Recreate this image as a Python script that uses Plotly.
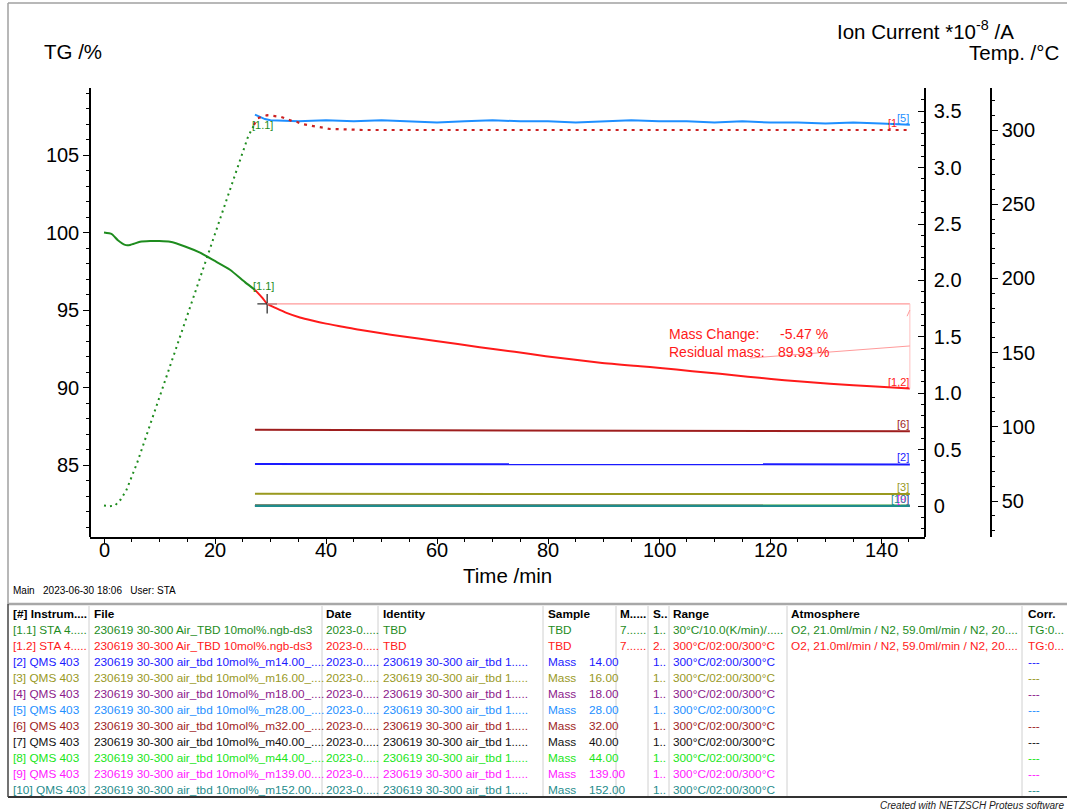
import numpy as np
import plotly.graph_objects as go

W, H = 1067, 812
FONT = "Liberation Sans, Arial, Helvetica, sans-serif"

# ---------------- data ----------------
# TG /% : segment [1.1] (green) and segment [1.2] (red)
tg_green_t = [0, 1.4, 2.5, 3.8, 4.7, 6.5, 8.3, 10.0, 11.9, 14.6, 17.3, 19.8, 22.7, 25.4, 27.2]
tg_green = [100.0, 99.9, 99.5, 99.2, 99.2, 99.4, 99.45, 99.45, 99.4, 99.1, 98.7, 98.2, 97.6, 96.8, 96.3]
tg_red_t = [27.2, 28.5, 29.4, 31.0, 33.0, 35.3, 37.5, 40.0, 43.0, 46.0, 50.0, 53.3, 59.8, 67.7,
            74.0, 79.6, 89.4, 96.6, 100.2, 106.0, 111.0, 116.0, 120.2, 125.0, 130.8, 135.0,
            139.8, 145.2]
tg_red = [96.3, 95.8, 95.40, 95.12, 94.8, 94.52, 94.32, 94.12, 93.92, 93.72, 93.5, 93.32, 93.0,
          92.6, 92.3, 92.02, 91.6, 91.37, 91.26, 91.05, 90.88, 90.7, 90.55, 90.4, 90.25, 90.15,
          90.05, 89.93]

# Temperature /°C
temp_green_t = [0, 1, 2, 3, 4, 6, 8, 10, 12, 14, 16, 18, 20, 22, 24, 26, 27]
temp_green = [47, 46.5, 47, 51, 57, 76, 98, 120, 142, 164, 187, 209, 230, 253, 275, 296, 303]
temp_red_t = [27.0, 27.7, 29.4, 31.0, 31.9, 33.0, 33.9, 34.8, 35.7, 36.6, 37.7, 38.9, 40.7, 43.0,
              46.7, 60, 80, 100, 120, 145.2]
temp_red = [303.4, 308, 310, 309.4, 308.8, 307.4, 306, 305.4, 304, 303.4, 302.7, 302, 300.7, 300.5,
            300, 300, 300, 300, 300, 300]

# Ion current *1e-8 /A
ms5_t = [27.2, 28, 29, 30, 35, 40, 45, 50, 55, 60, 65, 70, 75, 80, 85, 90, 95, 100, 105, 110,
         115, 120, 125, 130, 135, 140, 145.2]
ms5 = [3.47, 3.45, 3.43, 3.42, 3.41, 3.42, 3.41, 3.42, 3.41, 3.40, 3.41, 3.42, 3.41, 3.41, 3.40,
       3.41, 3.42, 3.41, 3.41, 3.40, 3.41, 3.40, 3.40, 3.39, 3.40, 3.39, 3.38]
ms_t = [27.2, 50, 75, 100, 125, 145.2]
ms6 = [0.675, 0.672, 0.670, 0.668, 0.665, 0.662]
ms2 = [0.372, 0.372, 0.371, 0.371, 0.370, 0.369]
ms3 = [0.108, 0.107, 0.107, 0.106, 0.106, 0.106]
ms4 = [0.004, 0.004, 0.003, 0.003, 0.003, 0.003]
ms7 = [0.002, 0.002, 0.002, 0.002, 0.002, 0.002]
ms8 = [0.003, 0.003, 0.003, 0.003, 0.003, 0.003]
ms9 = [0.001, 0.001, 0.001, 0.001, 0.001, 0.001]
ms10 = [0.0, 0.0, 0.0, 0.0, 0.0, 0.0]

MARK_T = 29.4           # start of the mass-change evaluation
x_ticks = [0, 20, 40, 60, 80, 100, 120, 140]
tg_ticks = [85, 90, 95, 100, 105]
ion_ticks = [0, 0.5, 1.0, 1.5, 2.0, 2.5, 3.0, 3.5]
ion_ticktext = ["0", "0.5", "1.0", "1.5", "2.0", "2.5", "3.0", "3.5"]
temp_ticks = [50, 100, 150, 200, 250, 300]

# colours
C11 = "#1E8C1E"; C12 = "#FF1A1A"; C2 = "#1A1AFF"; C3 = "#99991F"; C4 = "#8C1A8C"
C5 = "#1E8FFF"; C6 = "#9E1E1E"; C7 = "#111111"; C8 = "#19E619"; C9 = "#FF19FF"; C10 = "#1F8C8C"

# table
tbl_header = ["[#] Instrum....", "File", "Date", "Identity", "Sample", "M.....", "S..", "Range",
              "Atmosphere", "Corr."]
tbl_id = ["[1.1] STA 4.....", "[1.2] STA 4.....", "[2] QMS 403", "[3] QMS 403", "[4] QMS 403",
          "[5] QMS 403", "[6] QMS 403", "[7] QMS 403", "[8] QMS 403", "[9] QMS 403", "[10] QMS 403"]
tbl_file = ["230619 30-300 Air_TBD 10mol%.ngb-ds3", "230619 30-300 Air_TBD 10mol%.ngb-ds3",
            "230619 30-300 air_tbd 10mol%_m14.00_....", "230619 30-300 air_tbd 10mol%_m16.00_....",
            "230619 30-300 air_tbd 10mol%_m18.00_....", "230619 30-300 air_tbd 10mol%_m28.00_....",
            "230619 30-300 air_tbd 10mol%_m32.00_....", "230619 30-300 air_tbd 10mol%_m40.00_....",
            "230619 30-300 air_tbd 10mol%_m44.00_....", "230619 30-300 air_tbd 10mol%_m139.00....",
            "230619 30-300 air_tbd 10mol%_m152.00...."]
tbl_date = ["2023-0....."] * 11
tbl_identity = ["TBD", "TBD"] + ["230619 30-300 air_tbd 1....."] * 9
tbl_sample = ["TBD", "TBD"] + ["Mass"] * 9
tbl_mass = ["", "", "14.00", "16.00", "18.00", "28.00", "32.00", "40.00", "44.00", "139.00", "152.00"]
tbl_m = ["7......", "7......"] + [""] * 9
tbl_s = ["1..", "2.."] + ["1.."] * 9
tbl_range = ["30°C/10.0(K/min)/.....", "300°C/02:00/300°C"] + ["300°C/02:00/300°C"] * 9
tbl_atm = ["O2, 21.0ml/min / N2, 59.0ml/min / N2, 20....",
           "O2, 21.0ml/min / N2, 59.0ml/min / N2, 20...."] + [""] * 9
tbl_corr = ["TG:0...", "TG:0..."] + ["---"] * 9
tbl_color = [C11, C12, C2, C3, C4, C5, C6, C7, C8, C9, C10]

# ---------------- layout helpers (pixel -> paper) ----------------
def px(x):
    return x / W


def py(y):
    return 1 - y / H


X0, X1, YT, YB = 90, 925, 88, 537
X_ION, X_TEMP = 925, 991

annotations = []
shapes = []


def txt(x, y, s, size, color="black", xanchor="left", yanchor="middle", weight="normal",
        style="normal"):
    annotations.append(dict(x=px(x), y=py(y), xref="paper", yref="paper", text=s,
                            showarrow=False, xanchor=xanchor, yanchor=yanchor, borderpad=0,
                            font=dict(size=size, color=color, family=FONT, weight=weight,
                                      style=style)))


def pline(x0, y0, x1, y1, color, width):
    shapes.append(dict(type="line", xref="paper", yref="paper", x0=px(x0), y0=py(y0),
                       x1=px(x1), y1=py(y1), line=dict(color=color, width=width)))


fig = go.Figure()

# temperature curves (yaxis3)
fig.add_trace(go.Scatter(x=temp_green_t, y=temp_green, yaxis="y3", mode="lines",
                         line=dict(color=C11, width=2, dash="2px,4px")))
fig.add_trace(go.Scatter(x=temp_red_t, y=temp_red, yaxis="y3", mode="lines",
                         line=dict(color="#CC2222", width=2.2, dash="3px,5px")))

# ion current curves (yaxis2)
for t, v, c in [(ms_t, ms4, C4), (ms_t, ms7, C7), (ms_t, ms8, C8), (ms_t, ms9, C9),
                (ms_t, ms10, C10), (ms_t, ms3, C3), (ms_t, ms2, C2), (ms_t, ms6, C6),
                (ms5_t, ms5, C5)]:
    fig.add_trace(go.Scatter(x=t, y=v, yaxis="y2", mode="lines", line=dict(color=c, width=2)))

# TG curves
fig.add_trace(go.Scatter(x=tg_green_t, y=tg_green, mode="lines",
                         line=dict(color=C11, width=2, shape="spline", smoothing=0.6)))
fig.add_trace(go.Scatter(x=tg_red_t, y=tg_red, mode="lines",
                         line=dict(color=C12, width=2, shape="spline", smoothing=0.6)))

# mass change evaluation
start_val = float(np.interp(MARK_T, tg_red_t, tg_red))
t_end = tg_red_t[-1]
end_val = tg_red[-1]
fig.add_trace(go.Scatter(x=[MARK_T], y=[start_val], mode="markers",
                         marker=dict(symbol="cross-thin", size=14,
                                     line=dict(color="#333333", width=1.3))))
ev_color = "#FF9A9A"
shapes.append(dict(type="line", xref="x", yref="y", x0=MARK_T, y0=start_val, x1=t_end,
                   y1=start_val, line=dict(color=ev_color, width=1.3)))
shapes.append(dict(type="line", xref="x", yref="y", x0=t_end, y0=start_val, x1=t_end,
                   y1=end_val, line=dict(color="#FFC0C0", width=1)))
shapes.append(dict(type="line", xref="x", yref="y", x0=116.4, y0=91.9, x1=t_end, y1=92.68,
                   line=dict(color=ev_color, width=1)))
shapes.append(dict(type="line", xref="x", yref="y", x0=t_end - 0.5, y0=94.6, x1=t_end,
                   y1=95.0, line=dict(color=ev_color, width=1)))

txt(668, 334, "Mass Change:", 14, C12)
txt(779, 334, f"{end_val - start_val:.2f} %", 14, C12)
txt(668, 352, "Residual mass:", 14, C12)
txt(777, 352, f"{end_val:.2f} %", 14, C12)


# curve tags
def tag(x, y, yref, s, color, xanchor="right", yanchor="bottom", yshift=0):
    annotations.append(dict(x=x, y=y, xref="x", yref=yref, text=s, showarrow=False,
                            xanchor=xanchor, yanchor=yanchor, borderpad=0, yshift=yshift,
                            font=dict(size=11, color=color, family=FONT)))


tag(tg_green_t[-1] - 0.5, tg_green[-1], "y", "[1.1]", C11, xanchor="left", yshift=-3)
tag(temp_green_t[-1] - 0.5, temp_green[-1], "y3", "[1.1]", C11, xanchor="left",
    yanchor="middle", yshift=1)
tag(t_end, end_val, "y", "[1,2]", C12)
tag(temp_red_t[-1] - 2.2, temp_red[-1], "y3", "[1", C12)
tag(ms5_t[-1], ms5[-1], "y2", "[5]", C5)
tag(ms_t[-1], ms6[-1], "y2", "[6]", C6)
tag(ms_t[-1], ms2[-1], "y2", "[2]", C2)
tag(ms_t[-1], ms3[-1], "y2", "[3]", C3)
tag(ms_t[-1], ms9[-1], "y2", "[9]", C9)
tag(ms_t[-1], ms10[-1], "y2", "[10]", C10)

# x tick labels placed at the axis tick values
for xv in x_ticks:
    annotations.append(dict(x=xv, y=py(550), xref="x", yref="paper", text=str(xv),
                            showarrow=False, xanchor="center", yanchor="middle", borderpad=0,
                            font=dict(size=20, color="black", family=FONT)))

# axis titles and page texts
txt(43, 51, "TG /%", 20.5)
txt(1015, 30, "Ion Current *10<sup>-8</sup> /A", 20.5, xanchor="right")
txt(1060, 52, "Temp. /°C", 20.5, xanchor="right")
txt(507, 575, "Time /min", 20.5, xanchor="center")
txt(12, 590, "Main&nbsp;&nbsp;&nbsp;2023-06-30 18:06&nbsp;&nbsp;&nbsp;User: STA", 10)
txt(879, 805, "Created with NETZSCH Proteus software", 10, "#222222", style="italic")

# page frame
pline(8, 3, 1067, 3, "#A0A0A0", 1.5)
pline(8, 3, 8, 604, "#A0A0A0", 1.5)

# table
col_x = [12, 93, 325, 382, 547, 619, 652, 672, 790, 1027]
sep_x = [89, 322, 378, 543, 616, 648, 669, 787, 1022]
row_y0, row_dy = 630, 16
TS = 11.8
pline(8, 604, 1067, 604, "#A8A8A8", 2.5)
pline(8, 797, 1067, 797, "#333333", 2)
pline(8, 604, 8, 797, "#444444", 1.5)
for sx in sep_x:
    pline(sx, 606, sx, 796, "#D0D0D0", 1)
for cx, h in zip(col_x, tbl_header):
    txt(cx, 614, h, TS, "black", weight="bold")
for i in range(len(tbl_id)):
    yy = row_y0 + i * row_dy
    c = tbl_color[i]
    txt(col_x[0], yy, tbl_id[i], TS, c)
    txt(col_x[1], yy, tbl_file[i], TS, c)
    txt(col_x[2], yy, tbl_date[i], TS, c)
    txt(col_x[3], yy, tbl_identity[i], TS, c)
    txt(col_x[4], yy, tbl_sample[i], TS, c)
    if tbl_mass[i]:
        txt(588, yy, tbl_mass[i], TS, c)
    if tbl_m[i]:
        txt(col_x[5], yy, tbl_m[i], TS, c)
    txt(col_x[6], yy, tbl_s[i], TS, c)
    txt(col_x[7], yy, tbl_range[i], TS, c)
    if tbl_atm[i]:
        txt(col_x[8], yy, tbl_atm[i], TS, c)
    txt(col_x[9], yy, tbl_corr[i], TS, c)

# axis ranges from pixel calibration
x_lo = (X0 - 104) / 5.55
x_hi = (X1 - 104) / 5.55
tg_lo = 105 - (YB - 155) / 15.5
tg_hi = 105 + (155 - YT) / 15.5
ion_lo = (506 - YB) / 112.8
ion_hi = (506 - YT) / 112.8
temp_lo = 50 - (YB - 501) / 1.484
temp_hi = 50 + (501 - YT) / 1.484

tickfont = dict(size=20, color="black", family=FONT)
ydom = [py(YB), py(YT)]

fig.update_layout(
    width=W, height=H, autosize=False,
    margin=dict(l=0, r=0, t=0, b=0),
    paper_bgcolor="white", plot_bgcolor="white",
    showlegend=False,
    xaxis=dict(domain=[px(X0), px(X1)], range=[x_lo, x_hi], tickvals=x_ticks,
               showticklabels=False,
               showgrid=False, zeroline=False, showline=True, linecolor="black", linewidth=1.5,
               ticks="outside", ticklen=5, tickcolor="black", tickwidth=1.3,
               minor=dict(dtick=5, tick0=0, ticks="outside", ticklen=3, tickcolor="black"),
               anchor="y"),
    yaxis=dict(domain=ydom, range=[tg_lo, tg_hi], tickvals=tg_ticks, showgrid=False,
               zeroline=False, showline=True, linecolor="black", linewidth=1.5,
               ticks="outside", ticklen=6, tickcolor="black", tickwidth=1.3, tickfont=tickfont,
               minor=dict(dtick=1, tick0=0, ticks="outside", ticklen=3, tickcolor="black"),
               anchor="free", position=px(X0)),
    yaxis2=dict(range=[ion_lo, ion_hi], tickvals=ion_ticks, ticktext=ion_ticktext,
                overlaying="y", side="right", anchor="free", position=px(X_ION),
                showgrid=False, zeroline=False, showline=True, linecolor="black", linewidth=1.5,
                ticks="inside", ticklen=6, tickcolor="black", tickwidth=1.3, tickfont=tickfont,
                ticklabelstandoff=4,
                minor=dict(dtick=0.1, tick0=0, ticks="inside", ticklen=3, tickcolor="black")),
    yaxis3=dict(range=[temp_lo, temp_hi], tickvals=temp_ticks, overlaying="y", side="right",
                anchor="free", position=px(X_TEMP), showgrid=False, zeroline=False,
                showline=True, linecolor="black", linewidth=1.5, ticks="outside", ticklen=6,
                tickcolor="black", tickwidth=1.3, tickfont=tickfont, ticklabelstandoff=0,
                minor=dict(dtick=10, tick0=0, ticks="outside", ticklen=3, tickcolor="black")),
    annotations=annotations,
    shapes=shapes,
)

fig.write_html("out.html", config={"displayModeBar": False},
               post_script="document.body.style.margin='0';document.body.style.padding='0';")
